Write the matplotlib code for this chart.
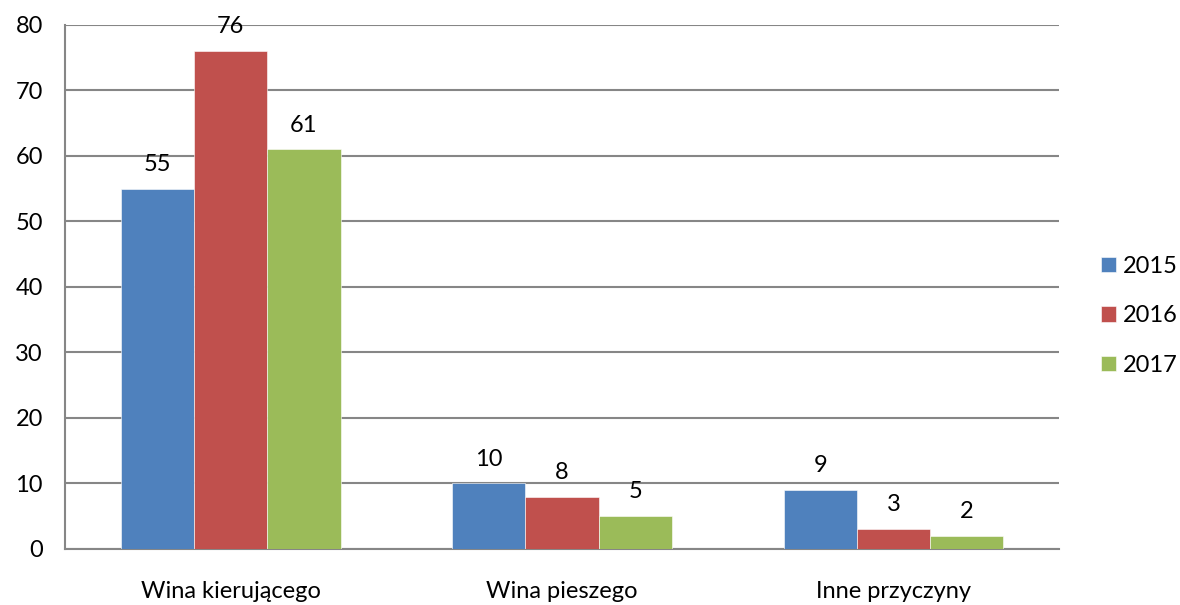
import numpy as np
import matplotlib.pyplot as plt

categories = ['Wina kierującego', 'Wina pieszego', 'Inne przyczyny']
years = ['2015', '2016', '2017']
v2015 = [55, 10, 9]
v2016 = [76, 8, 3]
v2017 = [61, 5, 2]
colors = ['#4F81BD', '#C0504D', '#9BBB59']

plt.rcParams['font.family'] = ['Lato', 'DejaVu Sans']
fs = 17

fig = plt.figure(figsize=(11.8, 6.05), dpi=100)
ax = fig.add_axes([0.0551, 0.0926, 0.8424, 0.8661])

x = np.arange(len(categories))
w = 0.221
for i, vals in enumerate([v2015, v2016, v2017]):
    bars = ax.bar(x + (i - 1) * w, vals, w, color=colors[i], label=years[i],
                  zorder=3, edgecolor='white', linewidth=0.4)
    for b, v in zip(bars, vals):
        ax.annotate(str(v), (b.get_x() + b.get_width() / 2, v),
                    xytext=(0, 10), textcoords='offset points',
                    ha='center', va='bottom', fontsize=fs)

ax.set_xlim(-0.5, 2.5)
ax.set_ylim(0, 80)
ax.set_yticks(range(0, 81, 10))
ax.set_xticks(x)
ax.set_xticklabels(categories, fontsize=fs)
ax.tick_params(axis='y', labelsize=fs, length=0, pad=16)
ax.tick_params(axis='x', length=0, pad=23)
ax.yaxis.grid(True, color='#868686', linewidth=1.5, zorder=0)
for s in ['top', 'right']:
    ax.spines[s].set_visible(False)
for s in ['left', 'bottom']:
    ax.spines[s].set_color('#868686')
    ax.spines[s].set_linewidth(1.5)

fig.legend(loc='center left', bbox_to_anchor=(0.933, 0.478), frameon=False,
           fontsize=fs, handlelength=0.64, handleheight=0.64,
           handletextpad=0.28, labelspacing=1.2, borderpad=0, borderaxespad=0)

fig.savefig('out.png')
